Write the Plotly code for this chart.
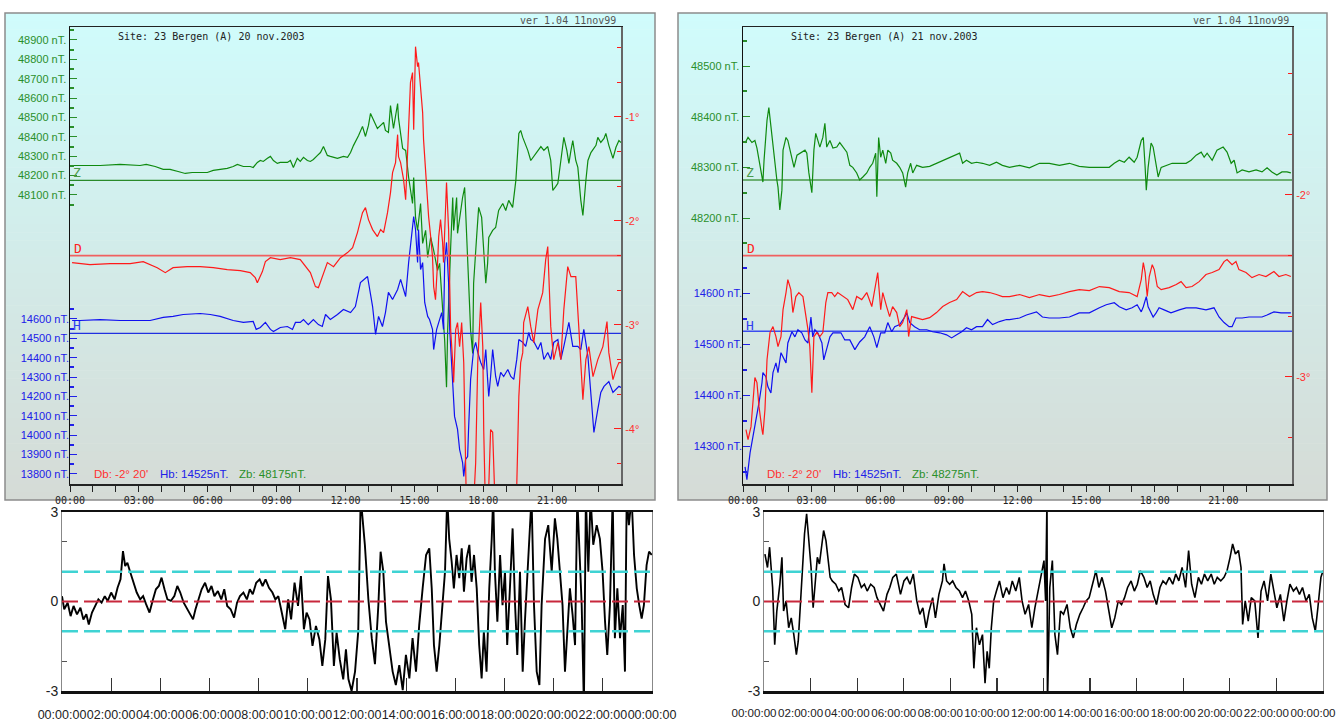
import plotly.graph_objects as go

# ---------------- DATA ----------------
# Left panel: 20 nov 2003  (time in hours)
L_Z_T = [0, 1.31, 2.18, 3.05, 3.32, 3.71, 4.06, 4.36, 4.71, 5.02,
         5.32, 5.67, 5.98, 6.24, 6.54, 6.85, 7.11, 7.29, 7.55, 7.85,
         7.98, 8.16, 8.29, 8.42, 8.60, 8.73, 8.86, 9.03, 9.16, 9.47,
         9.60, 9.73, 9.90, 10.03, 10.17, 10.34, 10.47, 10.60, 10.78, 10.91,
         11.04, 11.21, 11.34, 11.65, 11.91, 12.09, 12.22, 12.35, 12.57, 12.74,
         12.87, 13.00, 13.09, 13.22, 13.39, 13.53, 13.66, 13.74, 13.87, 13.96,
         14.05, 14.09, 14.27, 14.31, 14.49, 14.62, 14.75, 14.92, 14.97, 15.05,
         15.14, 15.27, 15.36, 15.49, 15.58, 15.71, 15.84, 16.01, 16.10, 16.23,
         16.32, 16.40, 16.45, 16.58, 16.67, 16.71, 16.84, 16.88, 16.97, 17.10,
         17.19, 17.28, 17.36, 17.45, 17.54, 17.58, 17.71, 17.80, 17.93, 18.02,
         18.11, 18.19, 18.24, 18.41, 18.54, 18.67, 18.85, 18.98, 19.11, 19.28,
         19.42, 19.55, 19.63, 19.72, 19.94, 20.07, 20.38, 20.51, 20.64, 20.81,
         20.94, 21.03, 21.16, 21.25, 21.38, 21.51, 21.64, 21.73, 21.82, 21.90,
         22.03, 22.12, 22.25, 22.34, 22.47, 22.56, 22.69, 22.91, 22.99, 23.12,
         23.26, 23.34, 23.47, 23.65, 23.78, 23.91, 24.0]
L_Z = [48252, 48252, 48258, 48252, 48258, 48247, 48232, 48232, 48221, 48211,
       48216, 48216, 48216, 48227, 48232, 48237, 48247, 48258, 48247, 48247,
       48242, 48268, 48278, 48273, 48289, 48299, 48278, 48263, 48268, 48268,
       48278, 48242, 48289, 48273, 48294, 48278, 48273, 48283, 48304, 48319,
       48350, 48304, 48299, 48289, 48299, 48294, 48319, 48356, 48407, 48454,
       48402, 48459, 48521, 48485, 48443, 48459, 48474, 48433, 48423, 48562,
       48485, 48443, 48572, 48495, 48340, 48330, 48190, 48056, 48190, 47984,
       47917, 48056, 47850, 47917, 47778, 47881, 47814, 47711, 47747, 47489,
       47349, 47107, 47401, 47829, 48087, 47917, 48087, 47902, 47984, 48087,
       48139, 47850, 47644, 47401, 47282, 47644, 47881, 48036, 47984, 47778,
       47644, 47747, 47881, 47917, 47932, 48020, 48056, 48020, 48072, 48036,
       48175, 48418, 48433, 48397, 48330, 48278, 48330, 48350, 48330, 48350,
       48278, 48123, 48144, 48160, 48278, 48397, 48330, 48263, 48330, 48381,
       48278, 48242, 48072, 47994, 48175, 48278, 48319, 48356, 48397, 48371,
       48392, 48418, 48356, 48289, 48346, 48381, 48371]

L_D_T = [0.09, 0.87, 1.75, 2.62, 3.19, 3.80, 4.15, 4.49, 5.10, 5.67,
         6.24, 6.85, 7.42, 7.85, 8.07, 8.16, 8.38, 8.51, 8.73, 9.16,
         9.60, 10.03, 10.47, 10.69, 10.82, 10.99, 11.21, 11.48, 11.78, 12.09,
         12.31, 12.52, 12.74, 12.87, 13.00, 13.18, 13.39, 13.53, 13.66, 13.83,
         13.96, 14.05, 14.18, 14.27, 14.31, 14.40, 14.53, 14.62, 14.70, 14.75,
         14.83, 14.92, 14.97, 15.05, 15.14, 15.18, 15.27, 15.36, 15.40, 15.49,
         15.58, 15.62, 15.71, 15.79, 15.84, 15.92, 16.01, 16.06, 16.14, 16.23,
         16.27, 16.36, 16.40, 16.49, 16.58, 16.67, 16.71, 16.80, 16.88, 16.97,
         17.06, 17.15, 17.19, 17.28, 17.45, 17.54, 17.67, 17.76, 17.89, 17.98,
         18.02, 18.11, 18.19, 18.32, 18.41, 18.54, 19.00, 19.42, 19.50, 19.55,
         19.63, 19.72, 19.76, 19.94, 20.07, 20.20, 20.38, 20.59, 20.72, 20.81,
         20.94, 21.07, 21.25, 21.38, 21.51, 21.68, 21.82, 22.03, 22.16, 22.34,
         22.47, 22.60, 22.78, 22.99, 23.21, 23.39, 23.47, 23.65, 23.78, 23.91,
         24.0]
L_D = [-2.400, -2.420, -2.410, -2.410, -2.391, -2.449, -2.497, -2.449, -2.439, -2.439,
       -2.449, -2.468, -2.478, -2.497, -2.545, -2.593, -2.487, -2.391, -2.353, -2.372,
       -2.353, -2.372, -2.497, -2.631, -2.641, -2.535, -2.400, -2.439, -2.353, -2.304,
       -2.256, -2.112, -1.920, -1.872, -1.987, -2.083, -2.150, -2.083, -2.112, -1.920,
       -1.727, -1.535, -1.439, -1.170, -1.381, -1.439, -1.602, -1.795, -1.381, -1.054,
       -0.670, -0.573, -1.122, -0.324, -0.516, -0.477, -0.737, -0.958, -1.218, -1.535,
       -1.766, -1.958, -2.150, -2.343, -2.631, -2.756, -2.400, -2.150, -1.987, -2.208,
       -2.400, -1.795, -1.631, -2.083, -3.045, -3.362, -3.554, -3.045, -2.977, -3.208,
       -2.977, -3.362, -4.006, -4.9, -4.9, -4.9, -4.324, -3.362, -2.785, -3.208,
       -4.006, -4.9, -4.9, -4.006, -4.03, -4.9, -4.9, -4.9, -4.170, -3.689,
       -3.362, -3.266, -2.977, -2.824, -3.016, -3.170, -2.852, -2.689, -2.372, -2.246,
       -3.016, -3.333, -3.170, -3.333, -2.852, -2.439, -2.535, -2.535, -3.016, -3.718,
       -3.333, -3.208, -3.497, -3.333, -3.208, -2.968, -3.266, -3.526, -3.429, -3.362,
       -3.362]

L_H_T = [0.09, 0.44, 1.31, 2.18, 3.05, 3.49, 4.06, 4.49, 4.93, 5.67,
         6.11, 6.54, 7.11, 7.55, 7.98, 8.11, 8.29, 8.51, 8.73, 8.86,
         9.16, 9.47, 9.69, 9.82, 10.03, 10.17, 10.38, 10.60, 10.82, 10.99,
         11.13, 11.34, 11.65, 11.91, 12.22, 12.43, 12.65, 12.96, 13.18, 13.31,
         13.44, 13.61, 13.74, 13.87, 14.05, 14.27, 14.40, 14.62, 14.75, 14.92,
         14.97, 15.05, 15.14, 15.18, 15.27, 15.36, 15.45, 15.58, 15.66, 15.79,
         15.84, 15.97, 16.06, 16.19, 16.27, 16.32, 16.40, 16.49, 16.54, 16.62,
         16.71, 16.75, 16.88, 16.97, 17.10, 17.15, 17.23, 17.32, 17.36, 17.45,
         17.58, 17.67, 17.76, 17.89, 18.02, 18.11, 18.19, 18.24, 18.32, 18.41,
         18.54, 18.63, 18.76, 18.89, 19.07, 19.20, 19.33, 19.46, 19.55, 19.72,
         19.85, 19.98, 20.07, 20.20, 20.38, 20.51, 20.64, 20.81, 20.94, 21.07,
         21.25, 21.38, 21.51, 21.73, 21.90, 22.12, 22.25, 22.38, 22.56, 22.69,
         22.82, 22.99, 23.12, 23.26, 23.47, 23.65, 23.78, 23.91, 24.0]
L_H = [14592, 14592, 14597, 14592, 14592, 14592, 14608, 14613, 14623, 14628,
       14623, 14613, 14592, 14582, 14587, 14546, 14556, 14582, 14546, 14535,
       14556, 14561, 14546, 14582, 14582, 14597, 14571, 14597, 14571, 14561,
       14623, 14597, 14623, 14649, 14633, 14664, 14788, 14819, 14664, 14520,
       14613, 14561, 14633, 14737, 14700, 14752, 14804, 14716, 14891, 15062,
       15129, 15062, 14891, 15062, 14855, 14891, 14685, 14613, 14597, 14546,
       14442, 14546, 14582, 14633, 14546, 14891, 14995, 14788, 14546, 14375,
       14169, 14097, 14030, 13926, 13859, 13787, 13875, 13890, 14030, 14288,
       14442, 14479, 14427, 14375, 14339, 14442, 14288, 14200, 14303, 14442,
       14303, 14252, 14324, 14303, 14339, 14303, 14288, 14391, 14494, 14479,
       14458, 14530, 14494, 14484, 14442, 14479, 14391, 14427, 14391, 14479,
       14494, 14391, 14458, 14582, 14458, 14458, 14442, 14546, 14406, 14200,
       14014, 14133, 14221, 14252, 14277, 14221, 14236, 14252, 14246]

# Right panel: 21 nov 2003
R_Z_T = [0.09, 0.22, 0.39, 0.52, 0.61, 0.74, 0.87, 0.92, 1.05, 1.13,
         1.27, 1.35, 1.48, 1.53, 1.61, 1.70, 1.75, 1.88, 1.96, 2.14,
         2.23, 2.36, 2.57, 2.71, 2.79, 2.88, 3.01, 3.10, 3.18, 3.27,
         3.36, 3.49, 3.58, 3.66, 3.80, 3.93, 4.10, 4.23, 4.36, 4.54,
         4.67, 4.80, 4.97, 5.10, 5.24, 5.41, 5.54, 5.67, 5.80, 5.85,
         5.93, 6.02, 6.11, 6.24, 6.33, 6.46, 6.54, 6.72, 6.85, 6.98,
         7.11, 7.20, 7.33, 7.42, 7.59, 7.85, 8.16, 8.46, 8.73, 9.03,
         9.25, 9.47, 9.60, 9.77, 9.99, 10.21, 10.47, 10.78, 11.08, 11.34,
         11.65, 12.09, 12.52, 12.96, 13.39, 13.83, 14.27, 14.70, 15.14, 15.58,
         16.01, 16.23, 16.45, 16.67, 16.88, 17.10, 17.23, 17.41, 17.50, 17.58,
         17.63, 17.71, 17.84, 17.93, 18.06, 18.15, 18.28, 18.50, 18.76, 19.07,
         19.37, 19.59, 19.81, 20.03, 20.16, 20.29, 20.51, 20.72, 20.99, 21.16,
         21.34, 21.47, 21.60, 21.82, 22.12, 22.43, 22.69, 22.91, 23.12, 23.34,
         23.56, 23.78, 23.95]
R_Z = [48348, 48359, 48349, 48353, 48338, 48300, 48271, 48314, 48393, 48418,
       48367, 48328, 48275, 48261, 48216, 48255, 48334, 48359, 48353, 48320,
       48300, 48324, 48330, 48334, 48328, 48289, 48250, 48334, 48367, 48353,
       48340, 48359, 48387, 48340, 48353, 48338, 48340, 48349, 48340, 48330,
       48304, 48300, 48289, 48275, 48281, 48289, 48300, 48308, 48328, 48242,
       48359, 48320, 48334, 48308, 48334, 48328, 48314, 48308, 48300, 48289,
       48261, 48289, 48308, 48289, 48304, 48300, 48302, 48308, 48314, 48320,
       48324, 48328, 48308, 48314, 48308, 48310, 48308, 48304, 48310, 48304,
       48300, 48304, 48299, 48308, 48308, 48304, 48308, 48302, 48300, 48300,
       48300, 48308, 48314, 48310, 48320, 48310, 48320, 48353, 48359, 48300,
       48255, 48300, 48348, 48340, 48300, 48281, 48300, 48304, 48308, 48308,
       48308, 48314, 48324, 48330, 48320, 48328, 48314, 48334, 48340, 48330,
       48308, 48314, 48289, 48295, 48291, 48295, 48291, 48299, 48291, 48285,
       48291, 48291, 48289]

R_D_T = [0.13, 0.22, 0.35, 0.44, 0.52, 0.61, 0.70, 0.83, 0.87, 0.96,
         1.05, 1.18, 1.31, 1.44, 1.53, 1.66, 1.75, 1.88, 1.96, 2.09,
         2.18, 2.31, 2.44, 2.62, 2.71, 2.84, 2.92, 3.01, 3.10, 3.23,
         3.36, 3.49, 3.62, 3.71, 3.88, 4.01, 4.14, 4.36, 4.58, 4.80,
         4.97, 5.19, 5.41, 5.63, 5.80, 5.89, 6.02, 6.11, 6.28, 6.41,
         6.54, 6.72, 6.85, 6.98, 7.16, 7.24, 7.37, 7.59, 7.85, 8.16,
         8.46, 8.73, 9.03, 9.34, 9.60, 9.90, 10.21, 10.47, 10.78, 11.08,
         11.34, 11.65, 12.09, 12.52, 12.96, 13.39, 13.83, 14.27, 14.70, 15.14,
         15.58, 16.01, 16.45, 16.88, 17.23, 17.41, 17.50, 17.58, 17.67, 17.76,
         17.89, 17.98, 18.11, 18.28, 18.63, 18.94, 19.15, 19.37, 19.63, 19.94,
         20.24, 20.51, 20.81, 21.03, 21.16, 21.38, 21.55, 21.68, 21.99, 22.25,
         22.56, 22.86, 23.21, 23.43, 23.73, 23.95]
R_D = [-3.289, -3.344, -3.273, -3.141, -3.003, -3.031, -3.163, -3.289, -3.317, -3.179,
       -2.905, -2.756, -2.723, -2.778, -2.833, -2.778, -2.630, -2.536, -2.465, -2.520,
       -2.646, -2.558, -2.536, -2.558, -2.630, -2.740, -2.833, -3.086, -2.778, -2.756,
       -2.778, -2.756, -2.591, -2.536, -2.536, -2.558, -2.536, -2.558, -2.575, -2.630,
       -2.558, -2.575, -2.536, -2.613, -2.503, -2.426, -2.630, -2.536, -2.613, -2.668,
       -2.613, -2.646, -2.723, -2.701, -2.630, -2.778, -2.668, -2.674, -2.685, -2.674,
       -2.646, -2.613, -2.591, -2.575, -2.531, -2.558, -2.536, -2.531, -2.536, -2.547,
       -2.558, -2.558, -2.547, -2.564, -2.547, -2.558, -2.547, -2.531, -2.520, -2.525,
       -2.503, -2.509, -2.531, -2.536, -2.558, -2.465, -2.371, -2.426, -2.558, -2.448,
       -2.383, -2.410, -2.503, -2.520, -2.509, -2.492, -2.476, -2.509, -2.503, -2.476,
       -2.437, -2.426, -2.410, -2.366, -2.355, -2.383, -2.366, -2.410, -2.426, -2.454,
       -2.437, -2.448, -2.421, -2.448, -2.437, -2.448]

R_H_T = [0.09, 0.17, 0.31, 0.44, 0.52, 0.61, 0.70, 0.83, 0.87, 1.00,
         1.09, 1.22, 1.31, 1.44, 1.53, 1.66, 1.75, 1.88, 1.96, 2.14,
         2.27, 2.40, 2.57, 2.71, 2.84, 2.97, 3.05, 3.14, 3.27, 3.45,
         3.53, 3.66, 3.80, 3.93, 4.10, 4.28, 4.45, 4.67, 4.89, 5.10,
         5.32, 5.54, 5.72, 5.85, 6.02, 6.20, 6.33, 6.50, 6.63, 6.85,
         7.07, 7.16, 7.29, 7.50, 7.72, 8.03, 8.29, 8.60, 8.90, 9.12,
         9.34, 9.56, 9.77, 9.99, 10.21, 10.47, 10.69, 10.91, 11.21, 11.52,
         11.65, 12.09, 12.39, 12.65, 12.83, 13.09, 13.39, 13.83, 14.27, 14.70,
         15.14, 15.58, 15.88, 16.23, 16.45, 16.75, 17.01, 17.23, 17.41, 17.50,
         17.63, 17.71, 17.84, 17.93, 18.06, 18.19, 18.41, 18.71, 19.07, 19.37,
         19.81, 20.24, 20.59, 20.81, 21.03, 21.25, 21.38, 21.55, 21.82, 22.12,
         22.43, 22.69, 22.91, 23.21, 23.52, 23.78, 23.95]
R_H = [14259, 14234, 14287, 14318, 14338, 14357, 14385, 14424, 14444, 14436,
       14416, 14404, 14444, 14463, 14444, 14483, 14475, 14463, 14502, 14524,
       14514, 14528, 14522, 14508, 14502, 14553, 14514, 14528, 14522, 14502,
       14469, 14489, 14514, 14522, 14522, 14522, 14508, 14508, 14489, 14504,
       14514, 14534, 14514, 14493, 14522, 14522, 14542, 14524, 14534, 14538,
       14553, 14561, 14542, 14534, 14528, 14528, 14524, 14522, 14518, 14512,
       14518, 14524, 14532, 14528, 14534, 14534, 14548, 14538, 14544, 14548,
       14548, 14551, 14557, 14561, 14563, 14553, 14551, 14551, 14553, 14561,
       14561, 14571, 14577, 14581, 14573, 14567, 14571, 14577, 14563, 14573,
       14593, 14573, 14561, 14553, 14561, 14571, 14567, 14561, 14567, 14571,
       14571, 14567, 14571, 14553, 14542, 14534, 14534, 14551, 14551, 14553,
       14553, 14553, 14557, 14563, 14561, 14561, 14561]

# Baselines
D_BASE = -(2 + 20 / 60)
H_BASE = 14525
Z_BASE_L = 48175
Z_BASE_R = 48275

# Lower panels: normalised index (hours, value)
BL_T = [0, 0.09, 0.23, 0.35, 0.47, 0.61, 0.75, 0.87, 0.99, 1.09,
        1.22, 1.34, 1.48, 1.61, 1.74, 1.86, 2.00, 2.14, 2.26, 2.38,
        2.48, 2.57, 2.66, 2.78, 2.90, 3.04, 3.18, 3.30, 3.42, 3.56,
        3.70, 3.82, 3.94, 4.05, 4.17, 4.29, 4.43, 4.57, 4.69, 4.81,
        4.95, 5.09, 5.21, 5.33, 5.43, 5.56, 5.68, 5.82, 5.95, 6.08,
        6.20, 6.34, 6.48, 6.60, 6.72, 6.86, 7.00, 7.12, 7.24, 7.38,
        7.52, 7.64, 7.76, 7.90, 8.04, 8.16, 8.28, 8.42, 8.56, 8.68,
        8.80, 8.94, 9.08, 9.20, 9.32, 9.46, 9.60, 9.72, 9.84, 9.95,
        10.07, 10.19, 10.33, 10.47, 10.59, 10.71, 10.82, 10.94, 11.06, 11.17,
        11.30, 11.44, 11.55, 11.65, 11.78, 11.92, 12.05, 12.15, 12.32, 12.46,
        12.60, 12.73, 12.87, 12.96, 13.07, 13.18, 13.31, 13.45, 13.58, 13.72,
        13.86, 13.99, 14.13, 14.26, 14.40, 14.53, 14.67, 14.81, 14.94, 15.04,
        15.13, 15.24, 15.35, 15.48, 15.58, 15.67, 15.75, 15.85, 15.94, 16.05,
        16.16, 16.26, 16.35, 16.46, 16.57, 16.66, 16.76, 16.87, 16.97, 17.07,
        17.16, 17.27, 17.38, 17.48, 17.54, 17.61, 17.71, 17.82, 17.92, 18.02,
        18.11, 18.22, 18.33, 18.43, 18.52, 18.63, 18.74, 18.83, 18.97, 19.10,
        19.20, 19.31, 19.42, 19.51, 19.65, 19.78, 19.92, 20.05, 20.15, 20.26,
        20.36, 20.46, 20.55, 20.66, 20.77, 20.87, 20.96, 21.04, 21.14, 21.23,
        21.31, 21.41, 21.50, 21.61, 21.75, 21.88, 21.99, 22.09, 22.18, 22.29,
        22.40, 22.49, 22.59, 22.70, 22.81, 22.90, 22.97, 23.06, 23.17, 23.27,
        23.38, 23.48, 23.58, 23.67, 23.78, 23.88, 23.99]
BL_V = [0.18, -0.26, -0.04, -0.49, -0.15, -0.43, -0.21, -0.60, -0.43, -0.77,
        -0.37, -0.15, 0.07, -0.04, 0.18, 0.02, 0.30, 0.07, 0.46, 0.74,
        1.69, 1.19, 1.30, 0.97, 0.63, 0.30, 0.07, 0.18, -0.09, -0.37,
        0.07, 0.41, 0.52, 0.80, 0.41, 0.07, 0.02, 0.18, 0.52, 0.30,
        -0.04, -0.26, -0.43, -0.60, -0.26, 0.07, 0.41, 0.63, 0.30, 0.52,
        0.18, 0.35, 0.07, 0.41, -0.15, -0.26, -0.54, -0.04, 0.18, 0.30,
        0.07, 0.41, 0.24, 0.63, 0.74, 0.52, 0.74, 0.46, 0.30, 0.07,
        0.18, -0.37, -0.93, 0.07, -0.60, 0.63, -0.15, 0.85, -0.93, -0.37,
        -0.60, -1.49, -0.82, -1.27, -2.16, -1.27, 0.85, 0.07, -2.16, -1.04,
        -1.94, -2.61, -1.60, -2.60, -3.0, -2.35, -1.0, 3.5, 1.9, 0.1,
        -1.23, -2.1, -0.1, 1.67, 1.0, -0.68, -1.46, -2.35, -2.8, -2.13,
        -2.97, -1.79, -2.58, -1.23, -2.35, -0.79, 0.44, 1.56, 1.78, 0.44,
        -1.46, -2.35, -1.46, -0.12, 1.0, 3.5, 2.1, 1.34, 0.44, 1.56,
        0.78, 1.78, 0.33, 1.45, 1.9, 0.66, 1.56, 0.44, -1.46, -2.58,
        -1.01, -2.35, 0.44, 2.1, 3.5, 1.0, -0.68, 1.56, -0.12, 1.0,
        -1.46, 0.44, 2.45, -0.12, -1.79, 1.0, -2.35, -0.68, 1.56, 3.5,
        -0.12, -2.35, -2.8, -0.12, 2.1, 2.56, 1.0, 2.79, 2.1, 1.0,
        -0.12, -2.35, -1.01, 0.44, -0.45, -1.46, 3.5, 2.1, -0.12, -3.5,
        3.5, 1.0, 3.5, 1.9, 2.56, 2.1, 1.0, -0.68, -1.79, -0.12,
        3.5, -1.23, 0.44, -1.23, -0.12, -2.35, 3.5, 2.56, 3.5, 1.56,
        0.44, -0.12, -0.57, -0.12, 1.22, 1.67, 1.56]

BR_T = [0.04, 0.15, 0.24, 0.37, 0.46, 0.55, 0.68, 0.77, 0.84, 0.95,
        1.06, 1.17, 1.28, 1.39, 1.47, 1.56, 1.65, 1.74, 1.83, 1.92,
        2.02, 2.11, 2.20, 2.29, 2.38, 2.47, 2.56, 2.66, 2.75, 2.84,
        2.93, 3.08, 3.21, 3.33, 3.48, 3.63, 3.76, 3.88, 4.03, 4.18,
        4.31, 4.43, 4.58, 4.73, 4.85, 4.98, 5.13, 5.28, 5.40, 5.53,
        5.68, 5.77, 5.86, 6.01, 6.14, 6.27, 6.41, 6.56, 6.69, 6.82,
        6.96, 7.09, 7.24, 7.36, 7.51, 7.66, 7.73, 7.84, 7.97, 8.10,
        8.24, 8.39, 8.52, 8.65, 8.79, 8.92, 9.01, 9.12, 9.25, 9.38,
        9.49, 9.58, 9.67, 9.76, 9.86, 9.98, 10.11, 10.26, 10.41, 10.53,
        10.66, 10.81, 10.96, 11.08, 11.21, 11.36, 11.50, 11.63, 11.76, 11.91,
        12.02, 12.09, 12.15, 12.17, 12.27, 12.38, 12.49, 12.60, 12.73, 12.86,
        13.01, 13.15, 13.28, 13.41, 13.56, 13.70, 13.83, 13.96, 14.11, 14.25,
        14.38, 14.51, 14.66, 14.80, 14.93, 15.06, 15.21, 15.35, 15.48, 15.61,
        15.76, 15.90, 16.03, 16.16, 16.31, 16.45, 16.58, 16.71, 16.85, 17.00,
        17.13, 17.26, 17.40, 17.55, 17.68, 17.81, 17.95, 18.10, 18.23, 18.36,
        18.50, 18.65, 18.78, 18.91, 19.05, 19.20, 19.33, 19.46, 19.61, 19.75,
        19.88, 20.01, 20.12, 20.24, 20.37, 20.48, 20.55, 20.66, 20.79, 20.92,
        21.07, 21.21, 21.34, 21.47, 21.62, 21.76, 21.89, 22.02, 22.17, 22.32,
        22.45, 22.58, 22.73, 22.86, 22.99, 23.12, 23.27, 23.41, 23.54, 23.67,
        23.78, 23.91, 24.0]
BR_V = [1.59, 1.14, 1.82, 0.47, -1.45, -0.32, 0.58, 1.48, -0.32, 0.02,
        -0.88, -0.55, -1.11, -1.78, -1.33, 0.02, 0.92, 2.27, 2.94, 2.16,
        1.14, -0.21, 0.81, 1.48, 1.26, 1.93, 2.38, 2.04, 1.48, 0.81,
        0.69, 0.58, 0.35, 0.47, -0.10, -0.21, 0.47, 0.92, 0.81, 0.47,
        0.58, 0.35, 0.58, 0.47, 0.13, -0.10, -0.32, 0.24, 0.47, 0.81,
        0.92, 0.58, 0.24, 0.69, 0.81, 0.58, 0.92, 0.02, -0.43, -0.21,
        -0.88, -0.32, 0.13, -0.55, 0.24, 0.69, 1.26, 0.69, 0.58, 0.69,
        0.47, 0.35, 0.13, 0.35, 0.02, -0.43, -2.24, -0.88, -1.45, -1.11,
        -2.74, -1.67, -2.24, -0.88, 0.02, 0.35, 0.69, 0.13, 0.47, 0.24,
        0.69, 0.35, 0.81, 0.02, -0.43, -0.10, -0.88, -0.21, 0.35, 0.92,
        1.37, 0.02, 3.5, -3.5, 0.47, 1.37, -1.11, -1.78, -0.32, -0.43,
        -0.10, -0.88, -1.22, -0.77, -0.43, -0.21, 0.02, 0.13, 0.58, 1.03,
        0.47, 0.81, 0.35, -0.32, -0.88, -0.55, 0.02, -0.10, 0.13, 0.47,
        0.69, 0.35, 0.58, 1.03, 0.81, 0.47, 0.69, 0.24, -0.10, 0.47,
        0.69, 0.58, 0.81, 0.58, 0.92, 0.69, 1.14, 0.47, 1.71, 0.58,
        0.13, 0.81, 0.58, 0.92, 0.69, 0.92, 0.58, 0.81, 0.69, 0.81,
        1.03, 1.48, 1.93, 1.59, 1.71, 1.14, -0.77, 0.02, -0.66, 0.13,
        0.02, -1.22, 0.35, 0.69, 0.02, 0.92, 0.35, -0.21, 0.24, -0.66,
        0.02, 0.58, 0.35, 0.47, 0.24, 0.47, 0.02, 0.24, -0.55, -0.99,
        -0.21, 0.81, 1.03]

THRESH = [1, -1]
ZERO_LINE = 0

Z_TICKS_L = [48100, 48200, 48300, 48400, 48500, 48600, 48700, 48800, 48900]
H_TICKS_L = [13800, 13900, 14000, 14100, 14200, 14300, 14400, 14500, 14600]
D_TICKS_L = [-1, -2, -3, -4]
Z_TICKS_R = [48200, 48300, 48400, 48500]
H_TICKS_R = [14300, 14400, 14500, 14600]
D_TICKS_R = [-2, -3]
HOURS = list(range(0, 24))
BOTTOM_HOURS = list(range(0, 25, 2))

for a, b in [(L_Z_T, L_Z), (L_D_T, L_D), (L_H_T, L_H), (R_Z_T, R_Z), (R_D_T, R_D),
             (R_H_T, R_H), (BL_T, BL_V), (BR_T, BR_V)]:
    assert len(a) == len(b), (len(a), len(b))

# ---------------- STYLE ----------------
W, HGT = 1336, 725
def PX(px): return px / W
def PY(py): return 1 - py / HGT

GREEN = "#0f8a0f"
GREEN_T = "#2a8f2a"
RED = "#ff1a1a"
BLUE = "#1010f0"
MONO = "DejaVu Sans Mono, Liberation Mono, monospace"
SANS = "Liberation Sans, Arial, sans-serif"

fig = go.Figure()

def line(x, y, xa, ya, color, width=1.2):
    fig.add_trace(go.Scatter(x=x, y=y, xaxis=xa, yaxis=ya, mode="lines",
                             line=dict(color=color, width=width),
                             hoverinfo="skip", showlegend=False))

# left panel
line([0, 24], [Z_BASE_L, Z_BASE_L], "x", "y", "#2a8a2a", 1.3)
line(L_Z_T, L_Z, "x", "y", GREEN)
line([0, 24], [H_BASE, H_BASE], "x", "y2", "#2030e0", 1.3)
line(L_H_T, L_H, "x", "y2", BLUE)
line([0, 24], [D_BASE, D_BASE], "x", "y3", "#f06060", 1.6)
line(L_D_T, L_D, "x", "y3", RED)
# right panel
line([0, 24], [Z_BASE_R, Z_BASE_R], "x2", "y4", "#4a9a4a", 1.6)
line(R_Z_T, R_Z, "x2", "y4", GREEN)
line([0, 24], [H_BASE, H_BASE], "x2", "y5", "#3b4cf0", 1.6)
line(R_H_T, R_H, "x2", "y5", BLUE)
line([0, 24], [D_BASE, D_BASE], "x2", "y6", "#f06060", 1.6)
line(R_D_T, R_D, "x2", "y6", RED)
# bottom panels
line(BL_T, BL_V, "x3", "y7", "#000000", 1.9)
line(BR_T, BR_V, "x4", "y8", "#000000", 1.6)

# ---- axes ----
time_text = [f"{h:02d}:00" if h % 3 == 0 else "" for h in HOURS]
def xtop(dom, anchor):
    return dict(domain=dom, anchor=anchor, range=[0, 24], tickmode="array",
                tickvals=HOURS, ticktext=time_text, ticks="outside", ticklen=6,
                tickcolor="#222", tickwidth=1, showline=True, linecolor="#222",
                linewidth=1.5, mirror=True, showgrid=False, zeroline=False,
                automargin=False, tickangle=0,
                tickfont=dict(family=MONO, size=10, color="#222"), fixedrange=True)

def nt_axis(ticks, rng, color, minor_vals, **kw):
    d = dict(range=rng, tickmode="array", tickvals=ticks,
             ticktext=[f"{v} nT." for v in ticks], ticks="inside", ticklen=7,
             tickcolor=color, tickwidth=1, tickfont=dict(family=SANS, size=11, color=color),
             showgrid=False, zeroline=False, automargin=False,
             minor=dict(tickvals=minor_vals, ticks="inside", ticklen=4, tickwidth=2,
                        tickcolor=color))
    d.update(kw)
    return d

def deg_axis(ticks, rng, minor_vals, **kw):
    d = dict(range=rng, tickmode="array", tickvals=ticks,
             ticktext=[f"{v}°" for v in ticks], ticks="inside", ticklen=7,
             tickcolor=RED, tickwidth=1, tickfont=dict(family=SANS, size=11, color="#ff3030"),
             showgrid=False, zeroline=False, side="right", automargin=False,
             showline=True, linecolor="#666", linewidth=2,
             minor=dict(tickvals=minor_vals, ticks="inside", ticklen=4, tickwidth=1.5,
                        tickcolor=RED))
    d.update(kw)
    return d

top_dom = [PY(484), PY(27)]
z_minor_l = [v + 50 for v in range(48000, 49000, 100)]
h_minor_l = [v + 50 for v in range(13700, 14700, 100)]
d_minor_l = [-(k / 3) for k in range(1, 14) if k % 3 != 0]
z_minor_r = [v + 50 for v in range(48100, 48600, 100)]
h_minor_r = [v + 50 for v in range(14200, 14700, 100)]
d_minor_r = [-(k / 3) for k in range(4, 11) if k % 3 != 0]

layout = dict(
    width=W, height=HGT, margin=dict(l=0, r=0, t=0, b=0, pad=0, autoexpand=False),
    paper_bgcolor="white", plot_bgcolor="rgba(0,0,0,0)", showlegend=False,
    xaxis=xtop([PX(70), PX(621)], "y"),
    yaxis=nt_axis(Z_TICKS_L, [46608, 48967], GREEN_T, z_minor_l, domain=top_dom,
                  anchor="x", showline=True, linecolor="#111", linewidth=1.5),
    yaxis2=nt_axis(H_TICKS_L, [13748, 16107], "#2020e8", h_minor_l, overlaying="y",
                   anchor="x", side="left", showline=False),
    yaxis3=deg_axis(D_TICKS_L, [-4.529, -0.135], d_minor_l, overlaying="y", anchor="x"),
    xaxis2=xtop([PX(743), PX(1292)], "y4"),
    yaxis4=nt_axis(Z_TICKS_R, [47675, 48577], GREEN_T, z_minor_r, domain=top_dom,
                   anchor="x2", showline=True, linecolor="#111", linewidth=1.5),
    yaxis5=nt_axis(H_TICKS_R, [14225.5, 15121.6], "#2020e8", h_minor_r, overlaying="y4",
                   anchor="x2", side="left", showline=False),
    yaxis6=deg_axis(D_TICKS_R, [-3.588, -1.077], d_minor_r, overlaying="y4", anchor="x2"),
)

def xbot(dom, anchor, size, shift):
    return dict(domain=dom, anchor=anchor, range=[0, 24], tickmode="array",
                tickvals=BOTTOM_HOURS,
                ticktext=[f"{h % 24:02d}:00:00" for h in BOTTOM_HOURS],
                ticks="inside", ticklen=13, tickwidth=1.2, tickcolor="#333",
                showline=True, linecolor="#111", linewidth=2.5, mirror=True,
                showgrid=False, zeroline=False, ticklabelstandoff=10,
                ticklabelshift=shift,
                ticklabeloverflow="allow", automargin=False, tickangle=0,
                tickfont=dict(family=SANS, size=size, color="#222"))

def ybot(anchor):
    return dict(domain=[PY(691), PY(512)], anchor=anchor, range=[-3, 3],
                tickmode="array", tickvals=[-3, -2, 0, 2, 3],
                ticktext=["-3", "", "0", "", "3"], ticks="inside", ticklen=5,
                tickcolor="#555", showline=True, linecolor="#888", linewidth=1,
                mirror=True, showgrid=False, zeroline=False, automargin=False,
                tickfont=dict(family=SANS, size=14, color="#222"))

layout.update(xaxis3=xbot([PX(62), PX(652)], "y7", 12.5, 0), yaxis7=ybot("x3"),
              xaxis4=xbot([PX(764), PX(1323)], "y8", 11.6, -10), yaxis8=ybot("x4"))

# ---- shapes: panel backgrounds (gradient), frames, reference lines ----
shapes = []
TOPC = (208, 252, 252)
BOTC = (213, 219, 214)
N = 60
for (x0, x1) in [(5, 655), (678, 1327)]:
    for i in range(N):
        ya = 13 + (500 - 13) * i / N
        yb = 13 + (500 - 13) * (i + 1) / N + 0.6
        f = (i + 0.5) / N
        c = tuple(round(TOPC[k] + (BOTC[k] - TOPC[k]) * f) for k in range(3))
        shapes.append(dict(type="rect", xref="paper", yref="paper", x0=PX(x0), x1=PX(x1),
                           y0=PY(min(yb, 500)), y1=PY(ya), fillcolor=f"rgb{c}",
                           line=dict(width=0), layer="below"))
    shapes.append(dict(type="rect", xref="paper", yref="paper", x0=PX(x0), x1=PX(x1),
                       y0=PY(500), y1=PY(13), fillcolor="rgba(0,0,0,0)",
                       line=dict(color="#8c8c8c", width=1.5), layer="below"))

for xa, ya in [("x3", "y7"), ("x4", "y8")]:
    for t in THRESH:
        shapes.append(dict(type="line", xref=f"{xa} domain", yref=ya, x0=0, x1=1, y0=t, y1=t,
                           line=dict(color="#3fd3d3", width=2.5, dash="16px,6px"), layer="above"))
    shapes.append(dict(type="line", xref=f"{xa} domain", yref=ya, x0=0, x1=1,
                       y0=ZERO_LINE, y1=ZERO_LINE,
                       line=dict(color="#c8283c", width=2, dash="16px,6px"), layer="above"))
layout["shapes"] = shapes

# ---- annotations ----
ann = []
def text(px, py, s, color, size=11, family=SANS, xanchor="left"):
    ann.append(dict(x=PX(px), y=PY(py), xref="paper", yref="paper", text=s, showarrow=False,
                    xanchor=xanchor, yanchor="middle", font=dict(family=family, size=size, color=color)))

def dm(d):
    deg = int(d)
    mins = round(abs(d - deg) * 60)
    return f"{deg}° {mins}'"

for ox, day, zb in [(0, "20", Z_BASE_L), (673, "21", Z_BASE_R)]:
    text(211 + ox, 36, f"Site: 23 Bergen (A) {day} nov.2003", "#222", 10, MONO, "center")
    text(618 + ox, 21, "ver 1.04 11nov99", "#555", 10, MONO, "right")
    text(77 + ox, 173, "Z", "#4a9a4a", 13, MONO, "center")
    text(78 + ox, 249, "D", "#ff2020", 13, MONO, "center")
    text(77 + ox, 325, "H", "#3040f0", 13, MONO, "center")
    text(92 + ox, 474, f"Db: {dm(D_BASE)}", "#ff3030", 11.5)
    text(158 + ox, 474, f"Hb: {H_BASE}nT.", "#2020e8", 11.5)
    text(237 + ox, 474, f"Zb: {zb}nT.", "#2a8f2a", 11.5)
layout["annotations"] = ann

fig.update_layout(**layout)
fig.write_html("out.html", config={"displayModeBar": False, "staticPlot": True},
               post_script="document.body.style.margin='0';document.body.style.overflow='hidden';")
